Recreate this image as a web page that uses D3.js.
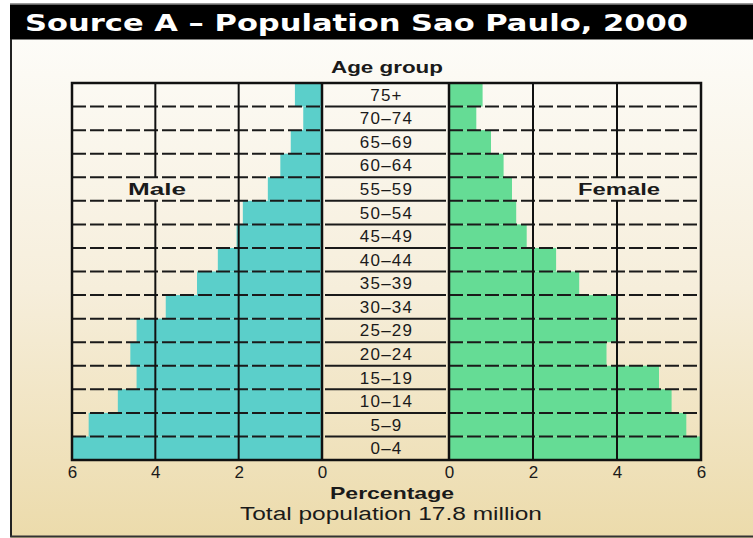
<!DOCTYPE html>
<html>
<head>
<meta charset="utf-8">
<script src="https://cdn.jsdelivr.net/npm/d3@7"></script>
<style>
  body { margin: 0; background: #fff; }
  svg { display: block; }
</style>
</head>
<body>
<script>
let w = 753;
let h = 538;

// age groups, bottom to top
var ages = ["0–4", "5–9", "10–14", "15–19", "20–24", "25–29", "30–34", "35–39",
    "40–44", "45–49", "50–54", "55–59", "60–64", "65–69", "70–74", "75+"];
// percentage of population
var male = [6.0, 5.6, 4.9, 4.45, 4.6, 4.45, 3.75, 3.0, 2.5, 2.05, 1.9, 1.3, 1.0, 0.75, 0.45, 0.65];
var female = [6.0, 5.65, 5.3, 5.0, 3.75, 4.0, 4.0, 3.1, 2.55, 1.85, 1.6, 1.5, 1.3, 1.0, 0.65, 0.8];
var ticks = [0, 2, 4, 6];

var svg = d3.select("body").append("svg")
    .attr("width", w)
    .attr("height", h);

// background
var grad = svg.append("defs").append("linearGradient")
    .attr("id", "bg").attr("x1", 0).attr("y1", 0).attr("x2", 0).attr("y2", 1);
grad.append("stop").attr("offset", "0%").attr("stop-color", "#fdfcf8");
grad.append("stop").attr("offset", "50%").attr("stop-color", "#f6eedb");
grad.append("stop").attr("offset", "100%").attr("stop-color", "#ecdbab");

svg.append("rect").attr("x", 11).attr("y", 39).attr("width", w - 11).attr("height", h - 39)
    .attr("fill", "url(#bg)");

// title band
svg.append("rect").attr("x", 10).attr("y", 3).attr("width", w - 10).attr("height", 1.5).attr("fill", "#999");
svg.append("rect").attr("x", 10).attr("y", 4.5).attr("width", w - 10).attr("height", 35).attr("fill", "#000");
svg.append("text")
    .attr("x", 25).attr("y", 31)
    .attr("textLength", 663).attr("lengthAdjust", "spacingAndGlyphs")
    .style("font-family", "DejaVu Sans").style("font-weight", "bold").style("font-size", "23px")
    .attr("fill", "#fff")
    .text("Source A – Population Sao Paulo, 2000");

// frame
svg.append("line").attr("x1", 11).attr("x2", 11).attr("y1", 39).attr("y2", 537)
    .attr("stroke", "#222").attr("stroke-width", 2);
svg.append("line").attr("x1", 10).attr("x2", w).attr("y1", 536.5).attr("y2", 536.5)
    .attr("stroke", "#333").attr("stroke-width", 2);

var yTop = 83, yBottom = 460;
var xm = d3.scaleLinear().domain([0, 6]).range([322, 72]);
var xf = d3.scaleLinear().domain([0, 6]).range([449, 701]);
var y = d3.scaleBand().domain(ages.slice().reverse()).range([yTop, yBottom]);

var g = svg.append("g");

// bars
g.selectAll("rect.male").data(ages).enter().append("rect")
    .attr("class", "male")
    .attr("x", (d, i) => xm(male[i]))
    .attr("y", d => y(d))
    .attr("width", (d, i) => xm(0) - xm(male[i]))
    .attr("height", y.bandwidth())
    .attr("fill", "#5bcfca");

g.selectAll("rect.female").data(ages).enter().append("rect")
    .attr("class", "female")
    .attr("x", xf(0))
    .attr("y", d => y(d))
    .attr("width", (d, i) => xf(female[i]) - xf(0))
    .attr("height", y.bandwidth())
    .attr("fill", "#65dc95");

// dashed row lines
var inner = ages.slice(1).map(d => y(d) + y.bandwidth());
[xm, xf].forEach(x => {
    g.selectAll(null).data(inner).enter().append("line")
        .attr("x1", d3.min(x.range())).attr("x2", d3.max(x.range()))
        .attr("y1", d => d).attr("y2", d => d)
        .attr("stroke", "#1a1a1a").attr("stroke-width", 2)
        .attr("stroke-dasharray", "14,4");
});
// center column row lines
g.selectAll(null).data(inner).enter().append("line")
    .attr("x1", xm(0) + 3).attr("x2", xf(0) - 3)
    .attr("y1", d => d).attr("y2", d => d)
    .attr("stroke", "#1a1a1a").attr("stroke-width", 2);

// vertical grid, broken in the "Male"/"Female" row at 4
var labelRow = "55–59";
[xm, xf].forEach(x => {
    [2, 4].forEach(t => {
        g.selectAll(null).data(ages.filter(a => !(t === 4 && a === labelRow))).enter().append("line")
            .attr("x1", x(t)).attr("x2", x(t))
            .attr("y1", d => y(d)).attr("y2", d => y(d) + y.bandwidth())
            .attr("stroke", "#111").attr("stroke-width", 2);
    });
});

// outer boxes
g.append("rect").attr("x", xm(6)).attr("y", yTop).attr("width", xf(6) - xm(6)).attr("height", yBottom - yTop)
    .attr("fill", "none").attr("stroke", "#111").attr("stroke-width", 2.5);
[xm(0), xf(0)].forEach(x => {
    g.append("line").attr("x1", x).attr("x2", x).attr("y1", yTop).attr("y2", yBottom)
        .attr("stroke", "#111").attr("stroke-width", 2.5);
});

// age labels
g.selectAll("text.age").data(ages).enter().append("text")
    .attr("class", "age")
    .attr("x", (xm(0) + xf(0)) / 2 + 1)
    .attr("y", d => y(d) + y.bandwidth() / 2 + 6)
    .attr("text-anchor", "middle")
    .style("font-family", "Liberation Sans").style("font-size", "17px")
    .style("letter-spacing", "1.2px")
    .attr("fill", "#1a1a1a")
    .text(d => d);

// axes
var axisM = d3.axisBottom(xm).tickValues(ticks).tickSize(0).tickPadding(6).tickFormat(d3.format("d"));
var axisF = d3.axisBottom(xf).tickValues(ticks).tickSize(0).tickPadding(6).tickFormat(d3.format("d"));
[axisM, axisF].forEach(a => {
    var ax = svg.append("g").attr("transform", `translate(0,${yBottom})`).call(a);
    ax.select(".domain").remove();
    ax.selectAll("text")
        .style("font-family", "Liberation Sans").style("font-size", "17px").attr("fill", "#1a1a1a");
});

// labels
var bold = (sel) => sel.style("font-family", "Liberation Sans").style("font-weight", "bold").attr("fill", "#1a1a1a");

svg.append("text").attr("x", 387).attr("y", 73).attr("text-anchor", "middle")
    .attr("textLength", 112).attr("lengthAdjust", "spacingAndGlyphs")
    .style("font-size", "17px").call(bold).text("Age group");

var ly = y(labelRow) + y.bandwidth() / 2 + 5.5;
svg.append("text").attr("x", 157).attr("y", ly).attr("text-anchor", "middle")
    .attr("textLength", 58).attr("lengthAdjust", "spacingAndGlyphs")
    .style("font-size", "16px").call(bold).text("Male");
svg.append("text").attr("x", 619).attr("y", ly).attr("text-anchor", "middle")
    .attr("textLength", 82).attr("lengthAdjust", "spacingAndGlyphs")
    .style("font-size", "16px").call(bold).text("Female");

svg.append("text").attr("x", 392).attr("y", 499).attr("text-anchor", "middle")
    .attr("textLength", 124).attr("lengthAdjust", "spacingAndGlyphs")
    .style("font-size", "17px").call(bold).text("Percentage");
svg.append("text").attr("x", 391).attr("y", 520).attr("text-anchor", "middle")
    .attr("textLength", 302).attr("lengthAdjust", "spacingAndGlyphs")
    .style("font-family", "Liberation Sans").style("font-size", "18px").attr("fill", "#1a1a1a")
    .text("Total population 17.8 million");
</script>
</body>
</html>
